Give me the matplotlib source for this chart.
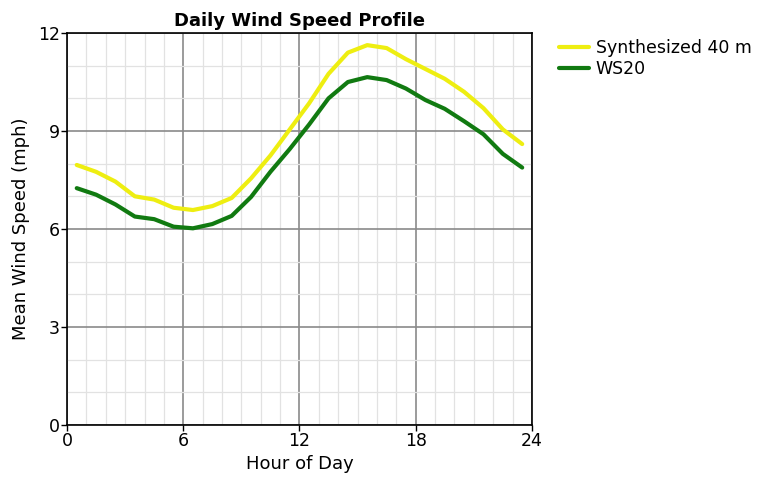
import numpy as np
import matplotlib
matplotlib.use("Agg")
import matplotlib.pyplot as plt
from matplotlib.ticker import MultipleLocator

# hour of day (mid-hour) and mean wind speed in mph
hours = np.arange(24) + 0.5
synth_40m = [7.96, 7.75, 7.45, 7.0, 6.9, 6.65, 6.58, 6.7, 6.95, 7.55, 8.25, 9.05,
             9.85, 10.75, 11.4, 11.63, 11.54, 11.2, 10.9, 10.6, 10.2, 9.7, 9.05, 8.6]
ws20 = [7.25, 7.05, 6.75, 6.38, 6.3, 6.07, 6.02, 6.15, 6.4, 6.98, 7.75, 8.45,
        9.2, 10.0, 10.5, 10.65, 10.56, 10.3, 9.95, 9.68, 9.3, 8.9, 8.3, 7.88]
labels = ['Synthesized 40 m', 'WS20']
colors = ['#eeee11', '#117a11']

fig = plt.figure(figsize=(7.62, 4.79), dpi=100)
ax = fig.add_axes([0.088, 0.113, 0.610, 0.818])

ax.plot(hours, synth_40m, color=colors[0], lw=3, label=labels[0], solid_capstyle='round')
ax.plot(hours, ws20, color=colors[1], lw=3, label=labels[1], solid_capstyle='round')

ax.set_xlim(0, 24)
ax.set_ylim(0, 12)
ax.xaxis.set_major_locator(MultipleLocator(6))
ax.yaxis.set_major_locator(MultipleLocator(3))
ax.xaxis.set_minor_locator(MultipleLocator(1))
ax.yaxis.set_minor_locator(MultipleLocator(1))
ax.grid(which='major', color='#8a8a8a', lw=1.2)
ax.grid(which='minor', color='#e2e2e2', lw=0.9)
ax.set_axisbelow(True)
ax.tick_params(which='minor', length=0)
ax.tick_params(which='major', length=4, width=1, labelsize=12.5, pad=1)
for s in ax.spines.values():
    s.set_linewidth(1.2)

ax.set_title('Daily Wind Speed Profile', fontsize=13, fontweight='bold', pad=5)
ax.set_xlabel('Hour of Day', fontsize=13, labelpad=4)
ax.set_ylabel('Mean Wind Speed (mph)', fontsize=13, labelpad=6)

ax.legend(loc='upper left', bbox_to_anchor=(1.025, 1.025), frameon=False,
          fontsize=12.5, handlelength=1.7, handletextpad=0.4, labelspacing=0.2)

fig.savefig('out.png', dpi=100)
